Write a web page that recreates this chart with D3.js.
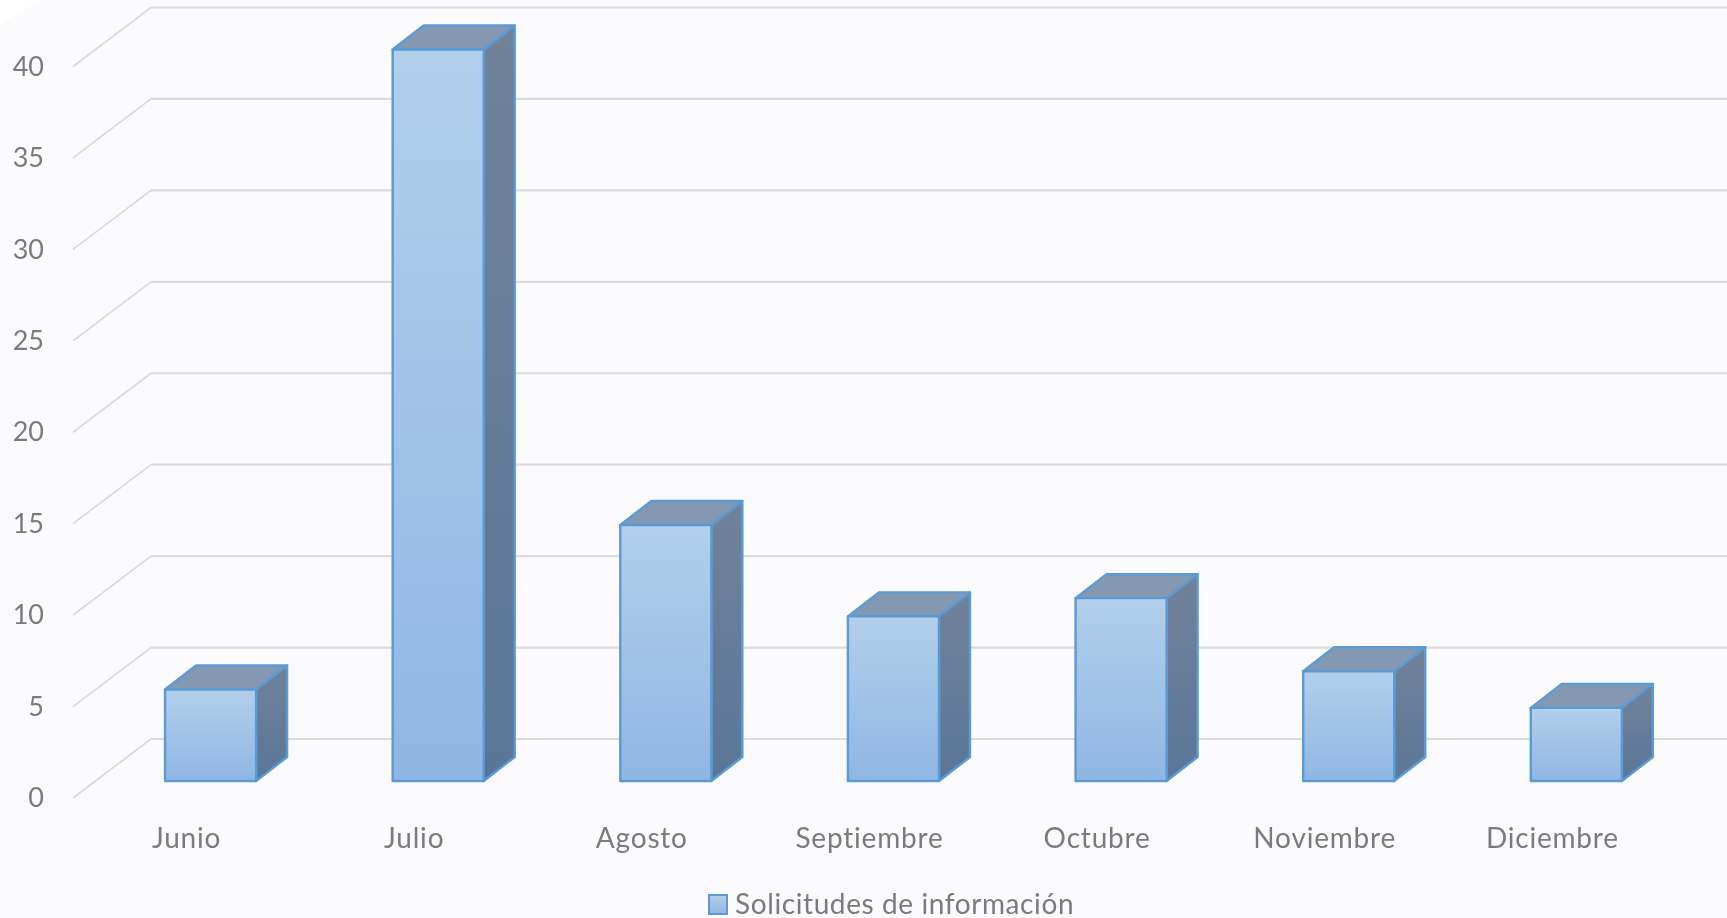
<!DOCTYPE html>
<html>
<head>
<meta charset="utf-8">
<script src="https://cdn.jsdelivr.net/npm/d3@7"></script>
<style>
  html, body { margin: 0; padding: 0; background: #fbfbfe; overflow: hidden; }
  /* the source picture is a soft upscaled screenshot */
  svg { display: block; filter: blur(0.6px); }
  .tick text { font-family: Lato, sans-serif; fill: #7b7b7f; }
</style>
</head>
<body>
<svg></svg>
<script>
const months = ["Junio", "Julio", "Agosto", "Septiembre", "Octubre", "Noviembre", "Diciembre"];
const requests = [5, 40, 14, 9, 10, 6, 4];
const yTicks = [0, 5, 10, 15, 20, 25, 30, 35, 40];
const seriesName = "Solicitudes de información";

const width = 1727;
const height = 918;
const depthX = 31;
const depthY = 24;

const svg = d3.select("svg").attr("width", width).attr("height", height);

const x = d3.scaleBand().domain(months).range([97.2, 1689.7]).paddingInner(0.6).paddingOuter(0.298);
const y = d3.scaleLinear().domain([0, 40]).range([781, 49.5]);

const defs = svg.append("defs");
function gradient(id, top, bottom) {
  const g = defs.append("linearGradient").attr("id", id).attr("x1", 0).attr("y1", 0).attr("x2", 0).attr("y2", 1);
  g.append("stop").attr("offset", "0%").attr("stop-color", top);
  g.append("stop").attr("offset", "100%").attr("stop-color", bottom);
}
gradient("front", "#b2cfeb", "#8fb6e4");
gradient("side", "#71829a", "#5a7697");

// washed out corner top left
svg.append("path").attr("d", "M0,0H40L0,26Z").attr("fill", "#ffffff");

// gridlines: side wall segment then back wall
const grid = svg.append("g");
grid.selectAll("path.wall")
  .data(yTicks)
  .enter()
  .append("path")
  .attr("class", "wall")
  .attr("d", d => `M73,${y(d) + 17}L151,${y(d) - 42}`)
  .attr("fill", "none")
  .attr("stroke", "#d9d9db")
  .attr("stroke-width", 1.6);
grid.selectAll("line.back")
  .data(yTicks)
  .enter()
  .append("line")
  .attr("class", "back")
  .attr("x1", 151)
  .attr("x2", width)
  .attr("y1", d => y(d) - 42)
  .attr("y2", d => y(d) - 42)
  .attr("stroke", "#dcdcde")
  .attr("stroke-width", 2.2);

// bars
const bars = svg.append("g")
  .selectAll("g")
  .data(months.map((m, i) => ({month: m, value: requests[i]})))
  .enter()
  .append("g")
  .attr("stroke", "#5b9bd5")
  .attr("stroke-width", 2.4)
  .attr("stroke-linejoin", "round");

bars.append("path")
  .attr("fill", "url(#side)")
  .attr("d", d => {
    const r = x(d.month) + x.bandwidth();
    return `M${r},${y(d.value)}l${depthX},${-depthY}V${y(0) - depthY}l${-depthX},${depthY}Z`;
  });

bars.append("path")
  .attr("fill", "#8499b1")
  .attr("d", d => `M${x(d.month)},${y(d.value)}l${depthX},${-depthY}h${x.bandwidth()}l${-depthX},${depthY}Z`);

bars.append("rect")
  .attr("fill", "url(#front)")
  .attr("x", d => x(d.month))
  .attr("y", d => y(d.value))
  .attr("width", x.bandwidth())
  .attr("height", d => y(0) - y(d.value));

// axes
const yAxis = svg.append("g")
  .attr("transform", "translate(44,17)")
  .call(d3.axisLeft(y).tickValues(yTicks).tickSize(0).tickPadding(0));
yAxis.select(".domain").remove();
yAxis.selectAll("text").attr("font-size", 27);

const xAxis = svg.append("g")
  .attr("transform", "translate(-24,828)")
  .call(d3.axisBottom(x).tickSize(0).tickPadding(0));
xAxis.select(".domain").remove();
xAxis.selectAll("text").attr("font-size", 28).attr("letter-spacing", 0.8);

// legend
svg.append("rect")
  .attr("x", 709)
  .attr("y", 895)
  .attr("width", 18)
  .attr("height", 19)
  .attr("fill", "url(#front)")
  .attr("stroke", "#5b9bd5")
  .attr("stroke-width", 2);
svg.append("text")
  .attr("x", 735)
  .attr("y", 914)
  .attr("font-family", "Lato, sans-serif")
  .attr("font-size", 28)
  .attr("letter-spacing", 0.6)
  .attr("fill", "#7b7b7f")
  .text(seriesName);
</script>
</body>
</html>
